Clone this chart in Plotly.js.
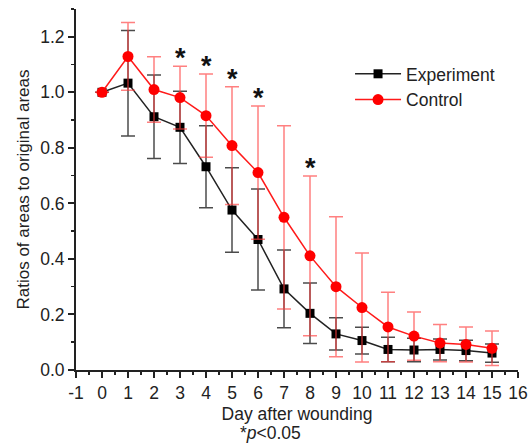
<!DOCTYPE html>
<html><head><meta charset="utf-8">
<script src="https://cdn.plot.ly/plotly-3.0.1.min.js"></script>
<style>html,body{margin:0;padding:0;background:#fff}#chart{width:532px;height:443px}</style>
</head><body><div id="chart"></div>
<script>
var days = [0,1,2,3,4,5,6,7,8,9,10,11,12,13,14,15];
var expMean = [1.0,1.033,0.912,0.874,0.732,0.576,0.470,0.292,0.204,0.130,0.106,0.074,0.072,0.074,0.070,0.061];
var expErr  = [0,0.19,0.15,0.13,0.148,0.152,0.182,0.140,0.109,0.058,0.048,0.044,0.042,0.038,0.037,0.033];
var ctrlMean = [1.0,1.129,1.010,0.981,0.916,0.808,0.711,0.550,0.411,0.300,0.225,0.155,0.122,0.097,0.092,0.078];
var ctrlErr  = [0,0.122,0.118,0.113,0.150,0.212,0.240,0.330,0.288,0.252,0.196,0.125,0.087,0.067,0.063,0.062];
var sigDays = [3,4,5,6,8];
var sigLabel = '*';
var xTickVals = [-1,0,1,2,3,4,5,6,7,8,9,10,11,12,13,14,15,16];
var xTickText = ['-1','0','1','2','3','4','5','6','7','8','9','10','11','12','13','14','15','16'];

var font = 'Arial, "Liberation Sans", sans-serif';
var fs = 17.5;
var traces = [
  {x: days, y: expMean, name: 'Experiment', type: 'scatter', mode: 'lines+markers',
   line: {color: '#222', width: 1.5},
   marker: {symbol: 'square', size: 9, color: '#000'},
   error_y: {type: 'data', array: expErr, visible: true, color: 'rgba(30,30,30,0.8)', thickness: 1.5, width: 7}},
  {x: days, y: ctrlMean, name: 'Control', type: 'scatter', mode: 'lines+markers',
   line: {color: '#ff1a1a', width: 1.5},
   marker: {symbol: 'circle', size: 11, color: '#ff0000'},
   error_y: {type: 'data', array: ctrlErr, visible: true, color: 'rgba(255,60,60,0.65)', thickness: 1.5, width: 7}}
];
var ann = sigDays.map(function(d){
  var i = days.indexOf(d);
  return {x: d, y: ctrlMean[i] + ctrlErr[i], xref: 'x', yref: 'y', text: '<b>' + sigLabel + '</b>', showarrow: false,
          yanchor: 'bottom', yshift: -9, font: {family: font, size: 27, color: '#111'}};
});
ann.push({x: 0.44, y: -0.175, xref: 'paper', yref: 'paper', text: '*<i>p</i><0.05', showarrow: false,
          xanchor: 'center', yanchor: 'middle', font: {family: font, size: fs, color: '#222'}});
var layout = {
  width: 532, height: 443,
  margin: {l: 76, r: 14, t: 9, b: 73},
  paper_bgcolor: '#fff', plot_bgcolor: '#fff',
  font: {family: font, size: fs, color: '#222'},
  showlegend: true,
  legend: {x: 0.62, y: 0.87, xanchor: 'left', yanchor: 'top', bgcolor: 'rgba(0,0,0,0)', itemwidth: 46,
           font: {family: font, size: fs, color: '#222'}, tracegroupgap: 0},
  xaxis: {range: [-1, 16], tickmode: 'array', tickvals: xTickVals, ticktext: xTickText, showgrid: false, zeroline: false,
          showline: true, linecolor: '#222', linewidth: 2, ticks: 'outside', ticklen: 6, tickwidth: 2, tickcolor: '#222',
          minor: {dtick: 0.5, tick0: 0, ticks: 'outside', ticklen: 3, tickwidth: 1.5, tickcolor: '#222', showgrid: false},
          title: {text: 'Day after wounding', font: {family: font, size: fs, color: '#222'}, standoff: 6},
          tickfont: {family: font, size: fs, color: '#222'}},
  yaxis: {range: [0, 1.3], dtick: 0.2, tick0: 0, tickformat: '.1f', showgrid: false, zeroline: false,
          showline: true, linecolor: '#222', linewidth: 2, ticks: 'outside', ticklen: 6, tickwidth: 2, tickcolor: '#222',
          minor: {dtick: 0.1, ticks: 'outside', ticklen: 3, tickwidth: 1.5, tickcolor: '#222', showgrid: false},
          title: {text: 'Ratios of areas to original areas', font: {family: font, size: 17, color: '#222'}, standoff: 6},
          tickfont: {family: font, size: fs, color: '#222'}},
  annotations: ann
};
Plotly.newPlot('chart', traces, layout, {displayModeBar: false, staticPlot: true});
</script></body></html>
